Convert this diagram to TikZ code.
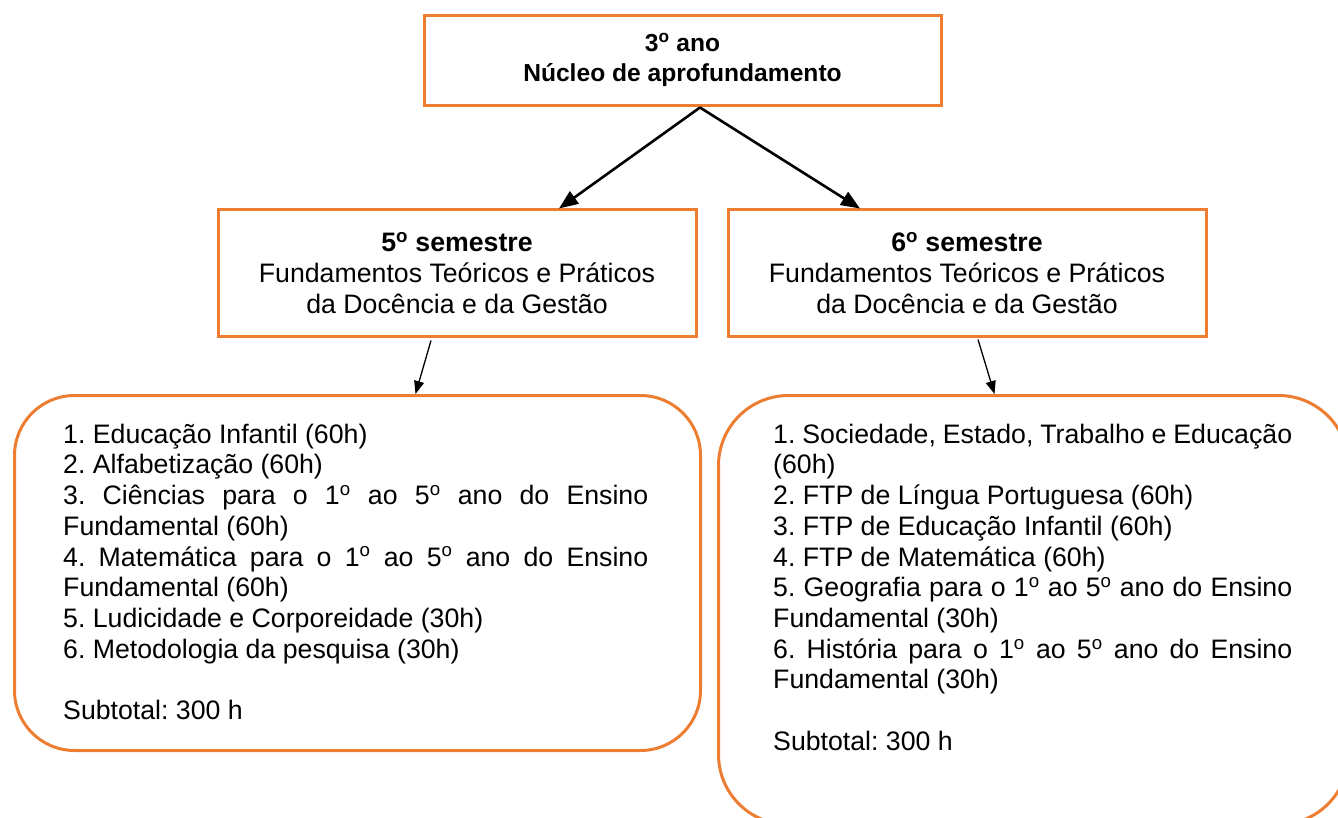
\documentclass[tikz,border=0pt]{standalone}
\usepackage{fontspec}
\setmainfont{Liberation Sans}
\usetikzlibrary{arrows.meta,calc}
\definecolor{boxorange}{RGB}{237,125,49}
\newcommand{\ordo}{\textsuperscript{o}}
\frenchspacing
\begin{document}
\begin{tikzpicture}[x=1pt,y=-1pt,
  sqbox/.style={draw=boxorange, line width=3pt, inner sep=0pt, align=center},
  rbox/.style={draw=boxorange, line width=3pt, inner sep=0pt},
  bigarrow/.style={line width=2.6pt, -{Triangle[length=19pt,width=15pt]}},
  smallarrow/.style={line width=1.3pt, -{Triangle[length=13pt,width=10pt]}},
  titlefont/.style={font=\fontsize{24.6}{30}\selectfont\bfseries},
  bodyfont/.style={font=\fontsize{26.7}{30.7}\selectfont}]
\useasboundingbox (0,0) rectangle (1338,818);
\clip (0,0) rectangle (1338,818);

\node[sqbox, minimum width=517pt, minimum height=90pt, titlefont] (top) at (682.5,61)
  {3\ordo{} ano\\Núcleo de aprofundamento\rule[-8pt]{0pt}{8pt}};

\node[sqbox, minimum width=478pt, minimum height=126pt, bodyfont] (s5) at (457,273)
  {{\bfseries 5\ordo{} semestre}\\Fundamentos Teóricos e Práticos\\da Docência e da Gestão};
\node[sqbox, minimum width=478pt, minimum height=126pt, bodyfont] (s6) at (967,273)
  {{\bfseries 6\ordo{} semestre}\\Fundamentos Teóricos e Práticos\\da Docência e da Gestão};

\node[rbox, rounded corners=60pt, minimum width=686pt, minimum height=355pt, anchor=north west] (b5) at (13,394) {};
\node[rbox, rounded corners=70pt, minimum width=630pt, minimum height=429pt, anchor=north west] (b6) at (717,394) {};

\node[anchor=north west, inner sep=0pt, bodyfont] (t5) at (63,422) {\begin{minipage}{585pt}
\rule{0pt}{21pt}1. Educação Infantil (60h)\par
2. Alfabetização (60h)\par
3. Ciências para o 1\ordo{} ao 5\ordo{} ano do Ensino\linebreak Fundamental (60h)\par
4. Matemática para o 1\ordo{} ao 5\ordo{} ano do Ensino\linebreak Fundamental (60h)\par
5. Ludicidade e Corporeidade (30h)\par
6. Metodologia da pesquisa (30h)\par
\mbox{}\par
Subtotal: 300 h
\end{minipage}};

\node[anchor=north west, inner sep=0pt, bodyfont] (t6) at (773,422) {\begin{minipage}{519pt}
\rule{0pt}{21pt}1. Sociedade, Estado, Trabalho e Educação\linebreak (60h)\par
2. FTP de Língua Portuguesa (60h)\par
3. FTP de Educação Infantil (60h)\par
4. FTP de Matemática (60h)\par
5. Geografia para o 1\ordo{} ao 5\ordo{} ano do Ensino\linebreak Fundamental (30h)\par
6. História para o 1\ordo{} ao 5\ordo{} ano do Ensino\linebreak Fundamental (30h)\par
\mbox{}\par
Subtotal: 300 h
\end{minipage}};

\draw[bigarrow] ([xshift=17.5pt]top.south) -- ([xshift=102pt]s5.north);
\draw[bigarrow] ([xshift=17.5pt]top.south) -- ([xshift=-107pt]s6.north);
\draw[smallarrow] ([xshift=-26pt,yshift=-3pt]s5.south) -- ([xshift=58pt]b5.north);
\draw[smallarrow] ([xshift=11pt,yshift=-2pt]s6.south) -- ([xshift=-39pt]b6.north);
\end{tikzpicture}
\end{document}
